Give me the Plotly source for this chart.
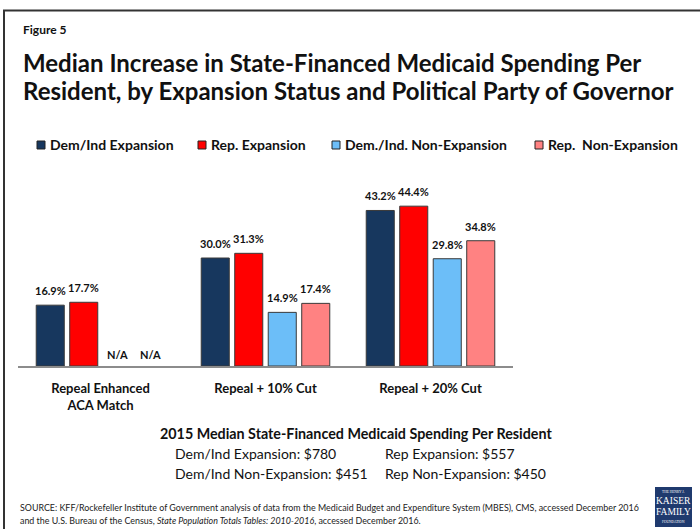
import plotly.graph_objects as go

# Data
categories = ["Repeal Enhanced<br>ACA Match", "Repeal + 10% Cut", "Repeal + 20% Cut"]
series_names = ["Dem/Ind Expansion", "Rep. Expansion", "Dem./Ind. Non-Expansion", "Rep.  Non-Expansion"]
dem_ind_expansion = [16.9, 30.0, 43.2]
rep_expansion = [17.7, 31.3, 44.4]
dem_ind_non_expansion = [None, 14.9, 29.8]
rep_non_expansion = [None, 17.4, 34.8]
series_values = [dem_ind_expansion, rep_expansion, dem_ind_non_expansion, rep_non_expansion]
colors = ["#17375E", "#FF0000", "#6CBEF8", "#FF8282"]

note_title = "2015 Median State-Financed Medicaid Spending Per Resident"
note_left = ["Dem/Ind Expansion: $780", "Dem/Ind Non-Expansion: $451"]
note_right = ["Rep Expansion: $557", "Rep Non-Expansion: $450"]

W, H = 700, 529
FONT = "Lato, 'Open Sans', sans-serif"


def px(x):
    return x / W


def py(y):
    return 1 - y / H


fig = go.Figure()

bar_w = 0.17
step = 0.203
cat_x = list(range(len(categories)))

annotations = []
for i, (name, vals, col) in enumerate(zip(series_names, series_values, colors)):
    off = (i - 1.5) * step
    xs = [c + off for c in cat_x]
    ys = [v if v is not None else 0 for v in vals]
    fig.add_trace(go.Bar(
        x=xs, y=ys, width=bar_w, name=name,
        marker=dict(color=col,
                    line=dict(color=["#3A3A3A" if v is not None else "rgba(0,0,0,0)" for v in vals],
                              width=1)),
        showlegend=False, hoverinfo="skip",
    ))
    for x, v in zip(xs, vals):
        label = f"{v:.1f}%" if v is not None else "N/A"
        annotations.append(dict(
            x=x, y=v if v is not None else 0, xref="x", yref="y",
            text=f"<b>{label}</b>", showarrow=False, yanchor="bottom",
            yshift=6 if v is not None else 3,
            font=dict(size=11, color="#111111", family=FONT),
        ))

# Legend drawn as small squares with bold labels
legend_sq_x = [37, 198, 332, 535]
legend_y = 145
shapes = []
for x0, name, col in zip(legend_sq_x, series_names, colors):
    shapes.append(dict(type="rect", xref="paper", yref="paper",
                       x0=px(x0), x1=px(x0 + 8), y0=py(legend_y + 4), y1=py(legend_y - 4),
                       fillcolor=col, line=dict(color="#222222", width=1)))
    annotations.append(dict(x=px(x0 + 11), y=py(legend_y), xref="paper", yref="paper",
                            xanchor="left", yanchor="middle", showarrow=False,
                            text=f"<b>{name.replace('  ', '&nbsp; ')}</b>",
                            font=dict(size=14, color="#111111", family=FONT)))

# Outer frame (top and left edges)
shapes.append(dict(type="line", xref="paper", yref="paper",
                   x0=px(3), x1=1.01, y0=py(10.5), y1=py(10.5),
                   line=dict(color="#333333", width=2)))
shapes.append(dict(type="line", xref="paper", yref="paper",
                   x0=px(4), x1=px(4), y0=py(10), y1=-0.01,
                   line=dict(color="#333333", width=2)))

# Logo block
shapes.append(dict(type="rect", xref="paper", yref="paper",
                   x0=px(655), x1=px(692), y0=py(527), y1=py(487),
                   fillcolor="#1F3A6E", line=dict(width=0)))

# Titles
annotations += [
    dict(x=px(21), y=py(30), xref="paper", yref="paper", xanchor="left", yanchor="middle",
         showarrow=False, text="<b>Figure 5</b>", font=dict(size=12, color="#111111", family=FONT)),
    dict(x=px(21), y=py(62), xref="paper", yref="paper", xanchor="left", yanchor="middle",
         showarrow=False, text="<b>Median Increase in State-Financed Medicaid Spending Per</b>",
         font=dict(size=24, color="#111111", family=FONT)),
    dict(x=px(21), y=py(91), xref="paper", yref="paper", xanchor="left", yanchor="middle",
         showarrow=False, text="<b>Resident, by Expansion Status and Political Party of Governor</b>",
         font=dict(size=24, color="#111111", family=FONT)),
]

# Spending note beneath the chart
annotations.append(dict(x=px(158), y=py(433), xref="paper", yref="paper", xanchor="left",
                        yanchor="middle", showarrow=False, text=f"<b>{note_title}</b>",
                        font=dict(size=14.3, color="#111111", family=FONT)))
for k, (lt, rt) in enumerate(zip(note_left, note_right)):
    yy = py(453 + 20 * k)
    annotations.append(dict(x=px(173), y=yy, xref="paper", yref="paper", xanchor="left",
                            yanchor="middle", showarrow=False, text=lt,
                            font=dict(size=14, color="#111111", family=FONT)))
    annotations.append(dict(x=px(383), y=yy, xref="paper", yref="paper", xanchor="left",
                            yanchor="middle", showarrow=False, text=rt,
                            font=dict(size=14, color="#111111", family=FONT)))

# Source line
annotations += [
    dict(x=px(18), y=py(507), xref="paper", yref="paper", xanchor="left", yanchor="middle",
         showarrow=False,
         text="SOURCE: KFF/Rockefeller Institute of Government analysis of data from the Medicaid Budget and Expenditure System (MBES), CMS, accessed December 2016",
         font=dict(size=8.9, color="#222222", family=FONT)),
    dict(x=px(18), y=py(520), xref="paper", yref="paper", xanchor="left", yanchor="middle",
         showarrow=False,
         text="and the U.S. Bureau of the Census, <i>State Population Totals Tables: 2010-2016</i>, accessed December 2016.",
         font=dict(size=8.9, color="#222222", family=FONT)),
]

# Logo lettering
logo_lines = [("THE HENRY J.", 3.5, 492), ("KAISER", 9.5, 501), ("FAMILY", 9.5, 512), ("FOUNDATION", 3.5, 522)]
for txt, sz, yy in logo_lines:
    annotations.append(dict(x=px(673.5), y=py(yy), xref="paper", yref="paper", xanchor="center",
                            yanchor="middle", showarrow=False, text=txt,
                            font=dict(size=sz, color="white", family="'Liberation Serif', serif")))

fig.update_layout(
    width=W, height=H,
    margin=dict(l=0, r=0, t=0, b=0),
    paper_bgcolor="white", plot_bgcolor="white",
    barmode="overlay",
    xaxis=dict(domain=[px(18), px(513)], range=[-0.5, 2.5],
               tickvals=cat_x, ticktext=[f"<b>{c}</b>" for c in categories],
               showline=True, linecolor="#8C8C8C", linewidth=2,
               showgrid=False, zeroline=False, ticks="", ticklabelstandoff=9,
               tickfont=dict(size=13, color="#111111", family=FONT)),
    yaxis=dict(domain=[py(366), py(186)], range=[0, 50], visible=False),
    shapes=shapes,
    annotations=annotations,
)

fig.write_html("out.html")
